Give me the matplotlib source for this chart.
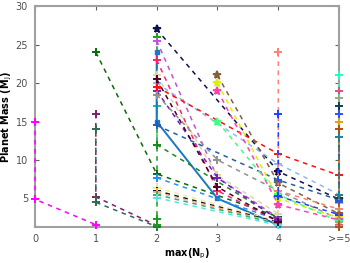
#!/usr/bin/env python3
import matplotlib
matplotlib.use('Agg')
import matplotlib.pyplot as plt

# --- chart values ---
XTICKS = [0, 1, 2, 3, 4, 5]
XTICK_LABELS = ['0', '1', '2', '3', '4', '>=5']
YTICKS = [5, 10, 15, 20, 25, 30]

# one entry per system: max(N_p) positions and planet masses
SYS_X = [
    [0, 0, 1],
    [1, 1, 2],
    [1, 1, 2],
    [1, 2, 4],
    [2, 2, 2],
    [2, 2],
    [2, 2, 3, 4],
    [2, 4],
    [2, 4],
    [2, 4],
    [2, 4],
    [2, 4],
    [2, 4],
    [2, 4],
    [2, 4, 5],
    [2, 3, 4],
    [2, 3, 4],
    [2, 3, 4],
    [2, 4, 5],
    [2, 3, 4],
    [2, 3, 4],
    [2, 4, 5],
    [2, 3, 4, 5],
    [2, 4, 5],
    [3, 4, 5],
    [3, 4, 5],
    [3, 4, 5],
    [3, 4, 5],
    [4, 4, 5],
    [4, 4, 5],
    [5, 5],
    [5, 5],
    [5, 5],
    [5, 5],
    [5, 5],
    [5, 5],
    [5, 5],
    [5, 5],
]
SYS_Y = [
    [15.0, 4.9, 1.6],
    [16.0, 5.2, 1.5],
    [14.0, 4.5, 1.35],
    [24.0, 8.2, 2.6],
    [26.0, 2.4, 1.5],
    [17.0, 12.0],
    [24.0, 15.0, 5.0, 1.55],
    [7.7, 2.2],
    [6.4, 2.0],
    [6.0, 1.9],
    [5.8, 1.8],
    [5.5, 1.7],
    [5.1, 1.5],
    [12.0, 2.4],
    [27.0, 8.5, 4.9],
    [25.5, 7.7, 2.5],
    [23.0, 6.0, 2.0],
    [21.0, 8.0, 3.0],
    [20.0, 9.5, 5.5],
    [19.0, 7.7, 2.2],
    [20.5, 6.5, 2.0],
    [19.5, 10.8, 8.0],
    [18.5, 10.0, 6.0, 2.3],
    [14.5, 7.4, 4.8],
    [21.0, 7.0, 3.0],
    [20.0, 5.0, 2.5],
    [19.0, 4.2, 2.2],
    [15.0, 5.5, 2.0],
    [24.0, 6.0, 3.6],
    [16.0, 5.3, 2.9],
    [21.0, 4.4],
    [19.0, 1.5],
    [18.0, 2.0],
    [17.0, 5.0],
    [16.0, 4.6],
    [15.0, 1.4],
    [14.0, 1.3],
    [13.0, 5.5],
]

# --- styles ---
SYS_COLOR = [
    '#ff00ff', '#7f1f6f', '#2e6b50', '#0a6a0a', '#14a014', '#20c080',
    '#1a78c2', '#1e90ff', '#e8f0a0', '#101010', '#ffb080', '#30b070',
    '#60e0e0', '#1a8a1a', '#101050', '#c050e0', '#ff2070', '#d8d8a8',
    '#90b8f0', '#7020c0', '#500020', '#ff1010', '#909090', '#1f5faf',
    '#806040', '#e0f000', '#ff40b0', '#40ff80', '#ff8070', '#2040ff',
    '#20ffc0', '#e05080', '#90b080', '#104050', '#3050ff', '#e0a020',
    '#b05010', '#208090',
]
SYS_MARKER = ['+'] * len(SYS_X)
for i in (14, 24, 25, 26, 27):
    SYS_MARKER[i] = '*'
SYS_MARKER[6] = 's'

fig, ax = plt.subplots(figsize=(3.5, 2.63), dpi=100)
fig.subplots_adjust(left=0.10, right=0.969, top=0.977, bottom=0.137)

for x, y, c, m in zip(SYS_X, SYS_Y, SYS_COLOR, SYS_MARKER):
    if m == 's':
        ax.plot(x, y, '-', color=c, lw=1.4, marker=m, ms=3.5, clip_on=False, zorder=3)
    else:
        ax.plot(x, y, '--', color=c, lw=1.1, dashes=(3, 3), marker=m,
                ms=6 if m == '+' else 5.5, mew=1.4, clip_on=False, zorder=3)

ax.set_xlim(0, 5)
ax.set_ylim(1.3, 30)
ax.set_xticks(XTICKS)
ax.set_xticklabels(XTICK_LABELS)
ax.set_yticks(YTICKS)
ax.tick_params(direction='in', top=True, right=True, labelsize=7,
               labelcolor='#505050', color='#606060', length=3, width=0.8, pad=5)
for s in ax.spines.values():
    s.set_color('#a0a0a0')
    s.set_linewidth(1.5)
ax.set_xlabel('max(N$_{\\rm p}$)', fontsize=7, fontweight='bold', labelpad=2)
ax.set_ylabel('Planet Mass (M$_{\\rm J}$)', fontsize=7, fontweight='bold', labelpad=1)

fig.savefig('out.png', dpi=100)
